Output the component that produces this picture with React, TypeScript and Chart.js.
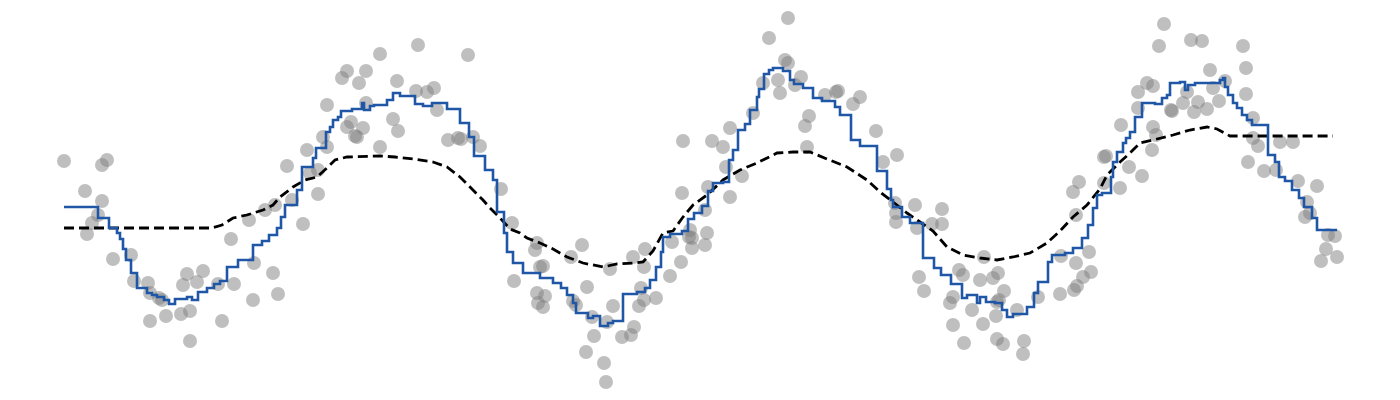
import { useEffect, useRef } from "react";
import { Chart, registerables } from "chart.js";

Chart.register(...registerables);

// observed samples
const sampleX = [
  0.0, 0.21, 0.38, 0.43, 0.38, 0.34, 0.28, 0.23, 0.49, 0.67, 0.7, 0.84, 0.86, 0.95, 0.98, 0.86, 1.02, 1.17,
  1.26, 1.26, 1.23, 1.39, 1.19, 1.33, 1.54, 1.58, 1.7, 1.67, 1.85, 1.9, 1.89, 2.09, 2.14, 2.01, 2.11, 2.23,
  2.28, 2.39, 2.54, 2.43, 2.54, 2.46, 2.59, 2.63, 2.63, 2.78, 2.83, 2.95, 3.02, 3.16, 3.54, 4.04, 3.33, 3.52,
  3.63, 3.7, 3.02, 2.87, 2.83, 2.99, 2.91, 2.93, 3.29, 3.34, 3.16, 3.73, 3.84, 3.94, 3.97, 4.09, 4.16, 4.37,
  4.48, 4.5, 4.73, 4.71, 5.18, 5.07, 4.79, 4.76, 4.73, 4.81, 4.74, 4.79, 5.09, 5.12, 5.23, 5.46, 5.49, 5.28,
  5.3, 5.22, 5.4, 5.42, 5.43, 5.58, 5.67, 5.7, 5.69, 5.81, 5.8, 5.77, 5.75, 5.8, 5.92, 6.06, 6.17, 6.08, 6.25,
  6.28, 6.41, 6.43, 6.41, 6.44, 6.18, 6.19, 6.48, 6.26, 6.28, 6.59, 6.66, 6.62, 6.66, 6.78, 6.89, 6.99, 7.05,
  7.24, 7.21, 7.24, 7.14, 7.16, 7.31, 7.37, 7.45, 7.41, 7.43, 7.61, 7.74, 7.72, 7.96, 7.89, 8.12, 8.33, 8.19,
  8.51, 8.31, 8.32, 8.32, 8.53, 8.68, 8.78, 8.78, 8.55, 8.6, 8.95, 8.99, 9.16, 9.2, 9.29, 9.34, 9.4, 8.86,
  8.89, 9.08, 8.89, 9.19, 9.32, 9.33, 9.35, 9.0, 9.33, 9.39, 9.6, 9.59, 9.53, 9.74, 9.96, 10.1, 10.13, 10.19,
  10.27, 10.12, 10.25, 9.97, 10.12, 10.09, 10.15, 10.4, 10.42, 10.4, 10.56, 10.65, 10.78, 10.57, 10.74,
  10.74, 10.83, 10.89, 10.89, 10.92, 10.88, 10.95, 11.0, 11.07, 11.08, 11.19, 11.23, 11.34, 11.3, 11.43,
  11.27, 11.38, 11.46, 11.49, 11.55, 11.61, 11.79, 11.82, 11.82, 11.89, 11.89, 11.94, 11.84, 12.0, 12.12,
  12.16, 12.29, 12.34, 12.53, 12.43, 12.46, 12.41, 12.64, 12.71, 12.62, 12.57, 12.73,
];
const sampleY = [
  0.69, 0.39, 0.65, 0.7, 0.29, 0.15, 0.07, -0.04, -0.29, -0.25, -0.51, -0.53, -0.63, -0.68, -0.7, -0.91,
  -0.86, -0.84, -0.81, -1.11, -0.44, -0.41, -0.55, -0.52, -0.54, -0.91, -0.54, -0.09, 0.1, -0.33, -0.7,
  -0.43, -0.64, 0.2, 0.25, 0.64, 0.3, 0.06, 0.36, 0.8, 0.6, 0.57, 0.93, 0.83, 1.25, 1.52, 1.59, 1.47, 1.59,
  1.76, 1.85, 1.75, 1.49, 1.39, 1.38, 1.42, 1.27, 1.08, 1.03, 1.02, 0.94, 0.93, 1.11, 0.99, 0.83, 1.2, 0.9,
  0.92, 0.91, 0.93, 0.84, 0.41, 0.07, -0.51, -0.13, -0.2, -0.15, -0.27, -0.36, -0.37, -0.63, -0.66, -0.73,
  -0.77, -0.71, -0.75, -0.57, -0.39, -0.76, -0.87, -1.06, -1.22, -1.33, -1.52, -0.92, -1.07, -1.05, -0.97,
  -0.27, -0.19, -0.37, -0.58, -0.76, -0.7, -0.68, -0.46, -0.32, -0.12, -0.07, -0.18, -0.15, -0.03, 0.2,
  0.43, 0.37, 0.89, 0.89, 0.0, -0.08, 0.83, 1.02, 0.63, 0.33, 0.54, 1.17, 1.47, 1.92, 2.12, 1.7, 1.67, 1.5,
  1.37, 1.45, 1.53, 1.14, 1.04, 0.83, 1.35, 1.39, 1.38, 1.33, 1.26, 0.99, 0.75, 0.68, 0.25, 0.27, 0.17,
  0.08, 0.02, 0.06, 0.21, 0.06, -0.47, -0.61, -0.4, -0.45, -0.5, -0.27, -0.48, -0.43, -0.61, -0.73, -0.67,
  -0.8, -0.95, -0.94, -0.86, -0.72, -0.7, -1.13, -1.09, -1.14, -1.11, -1.24, -0.8, -0.67, -0.64, -0.6,
  -0.56, -0.47, -0.42, -0.33, -0.22, -0.26, 0.15, 0.38, 0.48, 0.47, 0.74, 0.73, 0.42, 0.63, 0.54, 1.05,
  1.22, 1.38, 1.47, 1.44, 1.03, 0.95, 0.8, 1.84, 2.06, 1.2, 1.19, 1.27, 1.38, 1.28, 1.18, 1.21, 1.9, 1.89,
  1.6, 1.42, 1.29, 1.49, 1.84, 1.62, 1.36, 1.12, 0.92, 0.84, 0.68, 0.59, 0.6, 0.88, 0.88, 0.49, 0.44, 0.28,
  0.17, 0.13, -0.05, -0.06, -0.19, -0.31, -0.27,
];

// deep model prediction (step function, each value holds until the next x)
const deepX = [
  0.0, 0.34, 0.45, 0.53, 0.56, 0.59, 0.62, 0.67, 0.73, 0.83, 0.88, 0.93, 1.0, 1.05, 1.11, 1.23, 1.28, 1.34,
  1.43, 1.5, 1.56, 1.63, 1.74, 1.89, 1.98, 2.05, 2.13, 2.17, 2.21, 2.33, 2.38, 2.49, 2.52, 2.62, 2.66, 2.69,
  2.74, 2.77, 2.88, 2.98, 3.0, 3.06, 3.1, 3.23, 3.29, 3.36, 3.51, 3.59, 3.68, 3.83, 3.96, 4.05, 4.1, 4.21,
  4.29, 4.33, 4.4, 4.43, 4.49, 4.59, 4.76, 4.89, 4.97, 5.03, 5.09, 5.12, 5.24, 5.29, 5.36, 5.44, 5.49, 5.59,
  5.73, 5.81, 5.86, 5.92, 5.97, 5.99, 6.06, 6.18, 6.24, 6.3, 6.38, 6.44, 6.49, 6.59, 6.65, 6.69, 6.74, 6.81,
  6.86, 6.93, 6.95, 7.0, 7.05, 7.09, 7.19, 7.26, 7.3, 7.39, 7.49, 7.58, 7.71, 7.76, 7.87, 7.96, 8.13, 8.23,
  8.27, 8.29, 8.38, 8.46, 8.59, 8.7, 8.77, 8.87, 8.98, 9.03, 9.13, 9.16, 9.22, 9.31, 9.38, 9.43, 9.49, 9.63,
  9.7, 9.74, 9.84, 9.88, 10.01, 10.09, 10.18, 10.24, 10.29, 10.33, 10.38, 10.47, 10.49, 10.53, 10.59, 10.62,
  10.66, 10.71, 10.78, 10.91, 10.98, 11.03, 11.06, 11.16, 11.21, 11.24, 11.31, 11.56, 11.59, 11.61, 11.64,
  11.69, 11.73, 11.78, 11.83, 11.88, 12.04, 12.11, 12.15, 12.21, 12.28, 12.35, 12.4, 12.48, 12.53, 12.73,
];
const deepY = [
  0.23, 0.12, 0.02, -0.03, -0.09, -0.19, -0.3, -0.43, -0.58, -0.63, -0.65, -0.67, -0.7, -0.74, -0.69, -0.67,
  -0.7, -0.62, -0.58, -0.54, -0.51, -0.37, -0.3, -0.15, -0.11, -0.05, 0.02, 0.13, 0.25, 0.4, 0.63, 0.72,
  0.82, 0.98, 1.03, 1.1, 1.13, 1.19, 1.21, 1.27, 1.2, 1.24, 1.25, 1.3, 1.37, 1.34, 1.26, 1.24, 1.27, 1.21,
  1.07, 0.93, 0.74, 0.6, 0.5, 0.18, -0.03, -0.22, -0.33, -0.43, -0.48, -0.53, -0.58, -0.65, -0.73, -0.83,
  -0.88, -0.86, -0.96, -0.93, -0.91, -0.64, -0.62, -0.58, -0.5, -0.37, -0.22, -0.07, -0.04, -0.01, 0.11,
  0.17, 0.24, 0.39, 0.47, 0.48, 0.7, 0.8, 1.0, 1.06, 1.2, 1.33, 1.41, 1.56, 1.6, 1.62, 1.59, 1.5, 1.46,
  1.42, 1.32, 1.29, 1.23, 1.15, 0.9, 0.84, 0.59, 0.41, 0.3, 0.23, 0.13, 0.07, -0.28, -0.38, -0.45, -0.54,
  -0.68, -0.65, -0.73, -0.67, -0.72, -0.73, -0.8, -0.87, -0.84, -0.77, -0.63, -0.52, -0.32, -0.25, -0.23,
  -0.18, -0.08, 0.05, 0.22, 0.35, 0.37, 0.53, 0.68, 0.78, 0.87, 0.92, 0.98, 1.13, 1.27, 1.26, 1.32, 1.35,
  1.47, 1.48, 1.4, 1.45, 1.47, 1.5, 1.52, 1.43, 1.35, 1.27, 1.22, 1.15, 1.1, 1.05, 0.75, 0.68, 0.53, 0.49,
  0.4, 0.32, 0.23, 0.12, 0.0, 0.0,
];

// shallow model prediction
const shallowX = [
  0.0, 1.48, 1.58, 1.69, 1.83, 1.99, 2.09, 2.16, 2.29, 2.41, 2.53, 2.63, 2.71, 2.83, 3.16, 3.31, 3.49, 3.69,
  3.83, 3.96, 4.06, 4.19, 4.26, 4.36, 4.46, 4.56, 4.63, 4.76, 4.89, 5.03, 5.19, 5.39, 5.53, 5.69, 5.79, 5.89,
  5.99, 6.09, 6.19, 6.29, 6.43, 6.59, 6.76, 6.93, 7.13, 7.29, 7.46, 7.63, 7.83, 8.03, 8.16, 8.29, 8.43, 8.56,
  8.69, 8.83, 8.99, 9.16, 9.33, 9.49, 9.66, 9.83, 9.96, 10.09, 10.23, 10.36, 10.43, 10.56, 10.66, 10.76,
  10.89, 11.09, 11.26, 11.43, 11.53, 11.66, 12.69,
];
const shallowY = [
  0.02, 0.02, 0.05, 0.12, 0.15, 0.2, 0.25, 0.33, 0.43, 0.5, 0.53, 0.62, 0.7, 0.73, 0.74, 0.73, 0.71, 0.68,
  0.63, 0.53, 0.43, 0.3, 0.22, 0.12, 0.01, -0.03, -0.08, -0.13, -0.19, -0.27, -0.33, -0.37, -0.34, -0.33,
  -0.32, -0.21, -0.03, -0.01, 0.13, 0.25, 0.35, 0.5, 0.6, 0.67, 0.77, 0.78, 0.78, 0.71, 0.63, 0.5, 0.38, 0.28,
  0.17, 0.08, -0.01, -0.17, -0.25, -0.28, -0.3, -0.27, -0.23, -0.13, -0.01, 0.13, 0.25, 0.41, 0.55, 0.68,
  0.77, 0.87, 0.9, 0.95, 1.0, 1.03, 1.01, 0.94, 0.94,
];

const zip = (xs: number[], ys: number[]) => xs.map((x, i) => ({ x, y: ys[i] }));

export default function App() {
  const canvasRef = useRef<HTMLCanvasElement>(null);

  useEffect(() => {
    if (!canvasRef.current) return;
    const chart = new Chart(canvasRef.current, {
      type: "scatter",
      data: {
        datasets: [
          {
            label: "deep",
            data: zip(deepX, deepY),
            showLine: true,
            stepped: "before",
            borderColor: "#1f57a6",
            borderWidth: 2.6,
            pointRadius: 0,
            order: 0,
          },
          {
            label: "shallow",
            data: zip(shallowX, shallowY),
            showLine: true,
            borderColor: "#000000",
            borderWidth: 2.8,
            borderDash: [10, 5],
            pointRadius: 0,
            order: 1,
          },
          {
            label: "samples",
            data: zip(sampleX, sampleY),
            backgroundColor: "rgba(128,128,128,0.5)",
            borderWidth: 0,
            pointRadius: 7,
            order: 2,
          },
        ],
      },
      options: {
        animation: false,
        responsive: true,
        maintainAspectRatio: false,
        layout: { padding: 0, autoPadding: false },
        plugins: {
          legend: { display: false },
          tooltip: { enabled: false },
        },
        scales: {
          x: { type: "linear", display: false, min: -0.56, max: 13.28 },
          y: { type: "linear", display: false, min: -1.62, max: 2.22 },
        },
      },
    });
    return () => chart.destroy();
  }, []);

  return (
    <div style={{ width: "100%", height: 384, position: "relative" }}>
      <canvas ref={canvasRef} />
    </div>
  );
}
